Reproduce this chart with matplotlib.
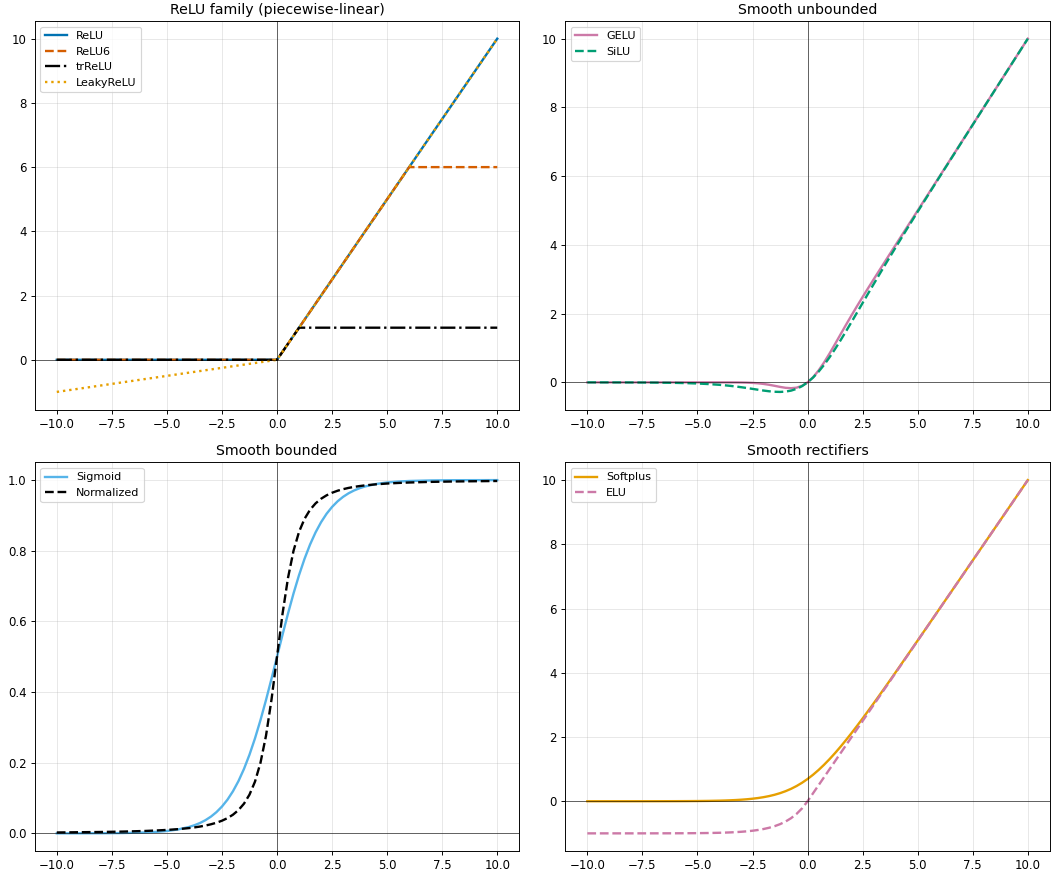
import matplotlib
matplotlib.use("Agg")
import matplotlib.pyplot as plt

# piecewise-linear family (breakpoints)
relu_x = [-10, 0, 10]
relu_y = [0, 0, 10]
relu6_x = [-10, 0, 6, 10]
relu6_y = [0, 0, 6, 6]
trrelu_x = [-10, 0, 1, 10]
trrelu_y = [0, 0, 1, 1]
leaky_x = [-10, 0, 10]
leaky_y = [-1, 0, 10]

# sample points for the smooth curves
x_pts = [-10, -8, -7, -6, -5.5, -5, -4.5, -4, -3.75, -3.5, -3.25, -3, -2.75, -2.5, -2.25,
         -2, -1.75, -1.5, -1.25, -1, -0.75, -0.5, -0.25, 0, 0.25, 0.5, 0.75, 1, 1.25, 1.5,
         1.75, 2, 2.25, 2.5, 2.75, 3, 3.25, 3.5, 3.75, 4, 4.5, 5, 5.5, 6, 7, 8, 10]

gelu_y = [0, 0, 0, 0, 0, 0, -0.0000, -0.0001, -0.0003, -0.0008, -0.0019, -0.0041, -0.0082,
          -0.0155, -0.0275, -0.0455, -0.0701, -0.1002, -0.1321, -0.1587, -0.1700, -0.1543,
          -0.1003, 0, 0.1497, 0.3457, 0.5800, 0.8413, 1.1179, 1.3998, 1.6799, 1.9545, 2.2225,
          2.4845, 2.7418, 2.9960, 3.2481, 3.4992, 3.7497, 3.9999, 4.5, 5.0, 5.5, 6.0, 7.0,
          8.0, 10.0]
silu_y = [-0.0005, -0.0027, -0.0064, -0.0148, -0.0224, -0.0335, -0.0495, -0.0719, -0.0862,
          -0.1026, -0.1213, -0.1423, -0.1652, -0.1897, -0.2145, -0.2384, -0.2591, -0.2736,
          -0.2784, -0.2689, -0.2406, -0.1888, -0.1095, 0, 0.1405, 0.3112, 0.5094, 0.7311,
          0.9716, 1.2264, 1.4909, 1.7616, 2.0355, 2.3104, 2.5848, 2.8577, 3.1287, 3.3974,
          3.6638, 3.9281, 4.4506, 4.9665, 5.4776, 5.9852, 6.9936, 7.9973, 9.9995]

sigmoid_y = [0.0000, 0.0003, 0.0009, 0.0025, 0.0041, 0.0067, 0.0110, 0.0180, 0.0230, 0.0293,
             0.0373, 0.0474, 0.0601, 0.0759, 0.0953, 0.1192, 0.1480, 0.1824, 0.2227, 0.2689,
             0.3208, 0.3775, 0.4378, 0.5, 0.5622, 0.6225, 0.6792, 0.7311, 0.7773, 0.8176,
             0.8520, 0.8808, 0.9047, 0.9241, 0.9399, 0.9526, 0.9627, 0.9707, 0.9770, 0.9820,
             0.9890, 0.9933, 0.9959, 0.9975, 0.9991, 0.9997, 1.0000]
normalized_y = [0.0025, 0.0039, 0.0050, 0.0068, 0.0081, 0.0097, 0.0119, 0.0149, 0.0169,
                0.0192, 0.0221, 0.0257, 0.0301, 0.0358, 0.0431, 0.0528, 0.0659, 0.0840,
                0.1096, 0.1464, 0.2000, 0.2764, 0.3787, 0.5, 0.6213, 0.7236, 0.8000, 0.8536,
                0.8904, 0.9160, 0.9341, 0.9472, 0.9569, 0.9642, 0.9699, 0.9743, 0.9779,
                0.9808, 0.9831, 0.9851, 0.9881, 0.9903, 0.9919, 0.9932, 0.9950, 0.9961, 0.9975]

softplus_y = [0.0000, 0.0003, 0.0009, 0.0025, 0.0041, 0.0067, 0.0111, 0.0182, 0.0233, 0.0298,
              0.0380, 0.0486, 0.0620, 0.0789, 0.1002, 0.1269, 0.1602, 0.2014, 0.2519, 0.3133,
              0.3869, 0.4741, 0.5759, 0.6931, 0.8259, 0.9741, 1.1369, 1.3133, 1.5019, 1.7014,
              1.9102, 2.1269, 2.3502, 2.5789, 2.8120, 3.0486, 3.2880, 3.5298, 3.7733, 4.0182,
              4.5111, 5.0067, 5.5041, 6.0025, 7.0009, 8.0003, 10.0000]
elu_y = [-1.0000, -0.9997, -0.9991, -0.9975, -0.9959, -0.9933, -0.9889, -0.9817, -0.9765,
         -0.9698, -0.9612, -0.9502, -0.9361, -0.9179, -0.8946, -0.8647, -0.8262, -0.7769,
         -0.7135, -0.6321, -0.5276, -0.3935, -0.2212, 0, 0.25, 0.5, 0.75, 1, 1.25, 1.5, 1.75,
         2, 2.25, 2.5, 2.75, 3, 3.25, 3.5, 3.75, 4, 4.5, 5, 5.5, 6, 7, 8, 10]

fig, axes = plt.subplots(2, 2, figsize=(1053 / 85, 875 / 85), dpi=85)
fig.subplots_adjust(left=0.033, right=0.997, bottom=0.0274, top=0.976,
                    wspace=0.095, hspace=0.136)
lw = 2

ax = axes[0, 0]
ax.plot(relu_x, relu_y, color="#0072B2", lw=lw, label="ReLU")
ax.plot(relu6_x, relu6_y, color="#D55E00", lw=lw, ls="--", label="ReLU6")
ax.plot(trrelu_x, trrelu_y, color="black", lw=lw, ls="-.", label="trReLU")
ax.plot(leaky_x, leaky_y, color="#E69F00", lw=lw, ls=":", label="LeakyReLU")
ax.set_title("ReLU family (piecewise-linear)")

ax = axes[0, 1]
ax.plot(x_pts, gelu_y, color="#CC79A7", lw=lw, label="GELU")
ax.plot(x_pts, silu_y, color="#009E73", lw=lw, ls="--", label="SiLU")
ax.set_title("Smooth unbounded")

ax = axes[1, 0]
ax.plot(x_pts, sigmoid_y, color="#56B4E9", lw=lw, label="Sigmoid")
ax.plot(x_pts, normalized_y, color="black", lw=lw, ls="--", label="Normalized")
ax.set_title("Smooth bounded")

ax = axes[1, 1]
ax.plot(x_pts, softplus_y, color="#E69F00", lw=lw, label="Softplus")
ax.plot(x_pts, elu_y, color="#CC79A7", lw=lw, ls="--", label="ELU")
ax.set_title("Smooth rectifiers")

for ax in axes.flat:
    ax.axhline(0, color="k", lw=0.8, alpha=0.6)
    ax.axvline(0, color="k", lw=0.8, alpha=0.6)
    ax.grid(True, alpha=0.3)
    ax.legend(loc="upper left", fontsize=9.4)

fig.savefig("out.png", dpi=85)
